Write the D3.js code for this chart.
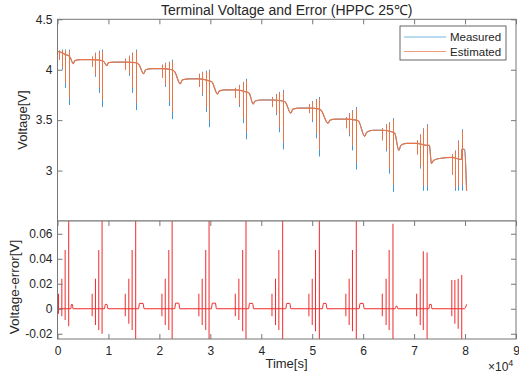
<!DOCTYPE html>
<html>
<head>
<meta charset="utf-8">
<script src="https://cdn.jsdelivr.net/npm/d3@7/dist/d3.min.js"></script>
<style>
  body { margin: 0; background: #fff; }
  svg text { font-family: Arial, "Liberation Sans", sans-serif; fill: #262626; }
</style>
</head>
<body>
<div id="chart"></div>
<script>
// time values are in units of 1e4 s (axis shows x10^4)

// slow part of the voltage curve (rest, discharge steps, relaxation)
const baseT = [0, 0.02, 0.085, 0.15, 0.22, 0.25, 0.31, 0.34, 0.45, 0.68,
  0.875, 0.91, 0.97, 1.0, 1.1, 1.33,
  1.535, 1.6, 1.69, 1.73, 1.85, 2.05,
  2.25, 2.3, 2.41, 2.45, 2.6, 2.775,
  2.975, 3.03, 3.14, 3.18, 3.3, 3.49,
  3.7, 3.76, 3.84, 3.88, 4.0, 4.21,
  4.42, 4.47, 4.58, 4.62, 4.75, 4.935,
  5.14, 5.17, 5.31, 5.35, 5.45, 5.66,
  5.865, 5.91, 6.03, 6.07, 6.2, 6.375,
  6.585, 6.62, 6.7, 6.74, 6.85, 7.05,
  7.255, 7.3, 7.34, 7.38, 7.5, 7.74,
  7.93, 7.935, 7.99, 8.03];
const baseV = [4.18, 4.18, 4.17, 4.15, 4.14, 4.12, 4.06, 4.09, 4.1, 4.1,
  4.09, 4.08, 4.04, 4.07, 4.075, 4.075,
  4.07, 4.05, 3.96, 4.0, 4.01, 4.01,
  4.0, 3.98, 3.86, 3.9, 3.91, 3.91,
  3.89, 3.88, 3.76, 3.79, 3.8, 3.8,
  3.78, 3.77, 3.66, 3.69, 3.7, 3.7,
  3.69, 3.68, 3.57, 3.61, 3.62, 3.62,
  3.61, 3.6, 3.47, 3.5, 3.51, 3.51,
  3.5, 3.49, 3.34, 3.38, 3.4, 3.4,
  3.38, 3.37, 3.2, 3.25, 3.27, 3.27,
  3.25, 3.25, 3.07, 3.1, 3.12, 3.13,
  3.11, 3.21, 3.21, 2.8];

// HPPC pulse instants (4 pulses per SOC step)
const pulseT = [0.02, 0.085, 0.15, 0.22,
  0.68, 0.745, 0.81, 0.875,
  1.33, 1.4, 1.465, 1.535,
  2.05, 2.115, 2.185, 2.25,
  2.775, 2.84, 2.91, 2.975,
  3.49, 3.56, 3.635, 3.7,
  4.21, 4.28, 4.345, 4.42,
  4.935, 5.0, 5.065, 5.14,
  5.66, 5.725, 5.79, 5.865,
  6.375, 6.45, 6.51, 6.585,
  7.05, 7.12, 7.18, 7.255,
  7.74, 7.8, 7.865, 7.935];

const measHi = [4.19, 4.2, 4.2, 4.2,  4.13, 4.17, 4.19, 4.2,  4.11, 4.14, 4.17, 4.2,
  4.05, 4.07, 4.08, 4.1,  3.96, 3.98, 3.99, 4.0,  3.82, 3.85, 3.88, 3.91,
  3.73, 3.76, 3.78, 3.8,  3.66, 3.69, 3.71, 3.73,  3.53, 3.57, 3.6, 3.63,
  3.42, 3.46, 3.48, 3.52,  3.3, 3.36, 3.42, 3.46,  3.16, 3.2, 3.3, 3.41];
const measLo = [4.1, 4.0, 3.82, 3.65,  4.03, 3.93, 3.77, 3.63,  4.0, 3.94, 3.77, 3.6,
  3.92, 3.83, 3.64, 3.51,  3.83, 3.74, 3.58, 3.43,  3.72, 3.63, 3.47, 3.31,
  3.63, 3.55, 3.38, 3.21,  3.57, 3.48, 3.32, 3.14,  3.42, 3.34, 3.2, 3.01,
  3.3, 3.19, 2.97, 2.79,  3.16, 3.02, 2.8, 2.8,  2.96, 2.8, 2.8, 2.8];
const estHi = [4.19, 4.19, 4.19, 4.185,  4.13, 4.165, 4.18, 4.185,  4.11, 4.135, 4.16, 4.185,
  4.05, 4.065, 4.07, 4.085,  3.96, 3.975, 3.98, 3.985,  3.82, 3.845, 3.87, 3.895,
  3.73, 3.755, 3.77, 3.785,  3.66, 3.685, 3.7, 3.715,  3.53, 3.565, 3.59, 3.615,
  3.42, 3.455, 3.47, 3.505,  3.3, 3.355, 3.41, 3.445,  3.16, 3.195, 3.29, 3.395];
const estLo = [4.1, 4.02, 3.87, 3.72,  4.03, 3.95, 3.82, 3.7,  4.0, 3.96, 3.82, 3.67,
  3.92, 3.85, 3.69, 3.58,  3.83, 3.76, 3.63, 3.5,  3.72, 3.65, 3.52, 3.38,
  3.63, 3.57, 3.43, 3.28,  3.57, 3.5, 3.37, 3.21,  3.42, 3.36, 3.25, 3.08,
  3.3, 3.21, 3.02, 2.86,  3.16, 3.04, 2.85, 2.85,  2.96, 2.83, 2.85, 2.86];

// voltage error: slow part and pulse spikes
const errBaseT = [0, 0.26, 0.275, 0.29, 0.305, 0.92, 0.94, 0.97, 0.99, 1.59, 1.61, 1.68, 1.70,
  2.30, 2.32, 2.38, 2.40, 3.02, 3.04, 3.10, 3.12, 3.75, 3.77, 3.83, 3.85,
  4.48, 4.50, 4.56, 4.58, 5.20, 5.22, 5.27, 5.29, 5.92, 5.94, 6.00, 6.02,
  6.63, 6.645, 6.665, 6.68, 7.29, 7.305, 7.335, 7.35, 7.99, 8.03];
const errBaseV = [0, 0, 0.0035, 0.0035, 0, 0, 0.0035, 0.0035, 0, 0, 0.0043, 0.0043, 0,
  0, 0.0045, 0.0045, 0, 0, 0.0045, 0.0045, 0, 0, 0.0043, 0.0043, 0,
  0, 0.0043, 0.0043, 0, 0, 0.0043, 0.0043, 0, 0, 0.0043, 0.0043, 0,
  0, 0.002, 0.002, 0, 0, 0.0035, 0.0035, 0, 0, 0.0035];
const errHi = [0.012, 0.024, 0.047, 0.09,  0.012, 0.024, 0.047, 0.09,  0.012, 0.024, 0.047, 0.09,
  0.012, 0.024, 0.047, 0.09,  0.012, 0.024, 0.047, 0.09,  0.012, 0.024, 0.047, 0.09,
  0.012, 0.024, 0.047, 0.09,  0.012, 0.024, 0.047, 0.09,  0.012, 0.024, 0.047, 0.09,
  0.012, 0.024, 0.047, 0.068,  0.012, 0.024, 0.046, 0.045,  0.023, 0.023, 0.024, 0.027];
const errLo = [-0.004, -0.006, -0.009, -0.014,  -0.006, -0.013, -0.017, -0.02,  -0.006, -0.012, -0.017, -0.03,
  -0.006, -0.013, -0.017, -0.03,  -0.006, -0.013, -0.017, -0.03,  -0.006, -0.009, -0.018, -0.03,
  -0.006, -0.013, -0.017, -0.03,  -0.006, -0.013, -0.018, -0.03,  -0.006, -0.013, -0.018, -0.03,
  -0.006, -0.013, -0.017, -0.03,  -0.006, -0.013, -0.017, -0.03,  -0.006, -0.012, -0.016, -0.03];

const vTicks = [3, 3.5, 4, 4.5];
const eTicks = [-0.02, 0, 0.02, 0.04, 0.06];
const tTicks = [0, 1, 2, 3, 4, 5, 6, 7, 8, 9];
const seriesNames = ["Measured", "Estimated"];
const seriesColors = ["#3f98d8", "#ea7446"];
const seriesWidths = [1, 1.2];

const W = 519, H = 376;
const box = {left: 57.5, right: 516, top: 19.3, mid: 221, bottom: 339};

const svg = d3.select("#chart").append("svg")
  .attr("width", W).attr("height", H);

const x = d3.scaleLinear().domain([0, 9]).range([box.left, box.right]);
const yV = d3.scaleLinear().domain([2.5, 4.5]).range([box.mid, box.top]);
const yE = d3.scaleLinear().domain([-0.0242, 0.0702]).range([box.bottom, box.mid]);
// pixel-snapped x so the two series' pulse strokes overlap exactly
const xs = t => Math.round(x(t)) + 0.5;

const defs = svg.append("defs");
defs.append("clipPath").attr("id", "clipTop").append("rect")
  .attr("x", box.left).attr("y", box.top).attr("width", box.right - box.left).attr("height", box.mid - box.top);
defs.append("clipPath").attr("id", "clipBot").append("rect")
  .attr("x", box.left).attr("y", box.mid).attr("width", box.right - box.left).attr("height", box.bottom - box.mid);

const axisColor = "#777";
function styleAxis(g) {
  g.select(".domain").remove();
  g.selectAll(".tick line").attr("stroke", axisColor);
  g.selectAll(".tick text").attr("font-size", 12).attr("fill", "#262626")
    .attr("font-family", "Arial, 'Liberation Sans', sans-serif");
}

// ---------- top axes: terminal voltage ----------
const topG = svg.append("g");
topG.append("rect").attr("x", box.left).attr("y", box.top)
  .attr("width", box.right - box.left).attr("height", box.mid - box.top)
  .attr("fill", "#fff");

const plotTop = topG.append("g").attr("clip-path", "url(#clipTop)");
const vLine = d3.line().x(d => x(d[0])).y(d => yV(d[1])).curve(d3.curveMonotoneX);
const segLine = d3.line().x(d => xs(d[0])).y(d => yV(d[1]));
const basePts = baseT.map((t, i) => [t, baseV[i]]);

[[measHi, measLo], [estHi, estLo]].forEach((pair, s) => {
  const g = plotTop.append("g").attr("fill", "none")
    .attr("stroke", seriesColors[s]).attr("stroke-width", seriesWidths[s]);
  g.append("path").attr("d", vLine(basePts));
  g.selectAll("path.spike").data(pulseT).enter().append("path")
    .attr("class", "spike")
    .attr("stroke-width", 1)
    .attr("d", (t, i) => segLine([[t, pair[0][i]], [t, pair[1][i]]]));
});

topG.append("g").attr("transform", `translate(${box.left},0)`)
  .call(d3.axisLeft(yV).tickValues(vTicks).tickSize(-5).tickPadding(5).tickFormat(d => String(d)))
  .call(styleAxis);
topG.append("g").attr("transform", `translate(${box.right},0)`)
  .call(d3.axisRight(yV).tickValues(vTicks).tickSize(-5).tickFormat(""))
  .call(styleAxis);
topG.append("g").attr("transform", `translate(0,${box.top})`)
  .call(d3.axisTop(x).tickValues(tTicks).tickSize(-5).tickFormat(""))
  .call(styleAxis);
topG.append("rect").attr("x", box.left).attr("y", box.top)
  .attr("width", box.right - box.left).attr("height", box.mid - box.top)
  .attr("fill", "none").attr("stroke", axisColor).attr("stroke-width", 1);

// legend
const leg = topG.append("g").attr("transform", "translate(400,26)");
leg.append("rect").attr("width", 106).attr("height", 34)
  .attr("fill", "#fff").attr("stroke", "#404040").attr("stroke-width", 0.8);
seriesNames.forEach((name, i) => {
  const yy = 11 + i * 14.5;
  leg.append("line").attr("x1", 4).attr("x2", 46).attr("y1", yy).attr("y2", yy)
    .attr("stroke", seriesColors[i]).attr("stroke-width", 1.2).attr("opacity", 0.7);
  leg.append("text").attr("x", 50).attr("y", yy + 4).attr("font-size", 11.5).text(name);
});

// ---------- bottom axes: voltage error ----------
const botG = svg.append("g");
botG.append("rect").attr("x", box.left).attr("y", box.mid)
  .attr("width", box.right - box.left).attr("height", box.bottom - box.mid)
  .attr("fill", "#fff");

const plotBot = botG.append("g").attr("clip-path", "url(#clipBot)")
  .attr("fill", "none").attr("stroke", "#f02a2a").attr("stroke-width", 1);
const eLine = d3.line().x(d => x(d[0])).y(d => yE(d[1])).curve(d3.curveMonotoneX);
const eSeg = d3.line().x(d => x(d[0])).y(d => yE(d[1]));
plotBot.append("path").attr("d", eLine(errBaseT.map((t, i) => [t, errBaseV[i]])));
plotBot.selectAll("path.spike").data(pulseT).enter().append("path")
  .attr("class", "spike")
  .attr("d", (t, i) => eSeg([[t, errHi[i]], [t, errLo[i]]]));

botG.append("g").attr("transform", `translate(${box.left},0)`)
  .call(d3.axisLeft(yE).tickValues(eTicks).tickSize(-5).tickPadding(5).tickFormat(d => String(d)))
  .call(styleAxis);
botG.append("g").attr("transform", `translate(${box.right},0)`)
  .call(d3.axisRight(yE).tickValues(eTicks).tickSize(-5).tickFormat(""))
  .call(styleAxis);
botG.append("g").attr("transform", `translate(0,${box.bottom})`)
  .call(d3.axisBottom(x).tickValues(tTicks).tickSize(-5).tickPadding(7).tickFormat(d => String(d)))
  .call(styleAxis);
botG.append("g").attr("transform", `translate(0,${box.mid})`)
  .call(d3.axisTop(x).tickValues(tTicks).tickSize(-5).tickFormat(""))
  .call(styleAxis);
botG.append("rect").attr("x", box.left).attr("y", box.mid)
  .attr("width", box.right - box.left).attr("height", box.bottom - box.mid)
  .attr("fill", "none").attr("stroke", axisColor).attr("stroke-width", 1);

// ---------- labels ----------
svg.append("text").attr("x", (box.left + box.right) / 2).attr("y", 15)
  .attr("text-anchor", "middle").attr("font-size", 14)
  .text("Terminal Voltage and Error (HPPC 25℃)");
svg.append("text").attr("transform", "translate(27,120) rotate(-90)")
  .attr("text-anchor", "middle").attr("font-size", 13).text("Voltage[V]");
svg.append("text").attr("transform", "translate(19,287) rotate(-90)")
  .attr("text-anchor", "middle").attr("font-size", 13.5).text("Voltage-error[V]");
svg.append("text").attr("x", 286.5).attr("y", 368)
  .attr("text-anchor", "middle").attr("font-size", 13).text("Time[s]");
const mult = svg.append("text").attr("x", 488).attr("y", 371).attr("font-size", 12);
mult.append("tspan").text("×10");
mult.append("tspan").attr("dy", -5).attr("font-size", 9).text("4");
</script>
</body>
</html>
